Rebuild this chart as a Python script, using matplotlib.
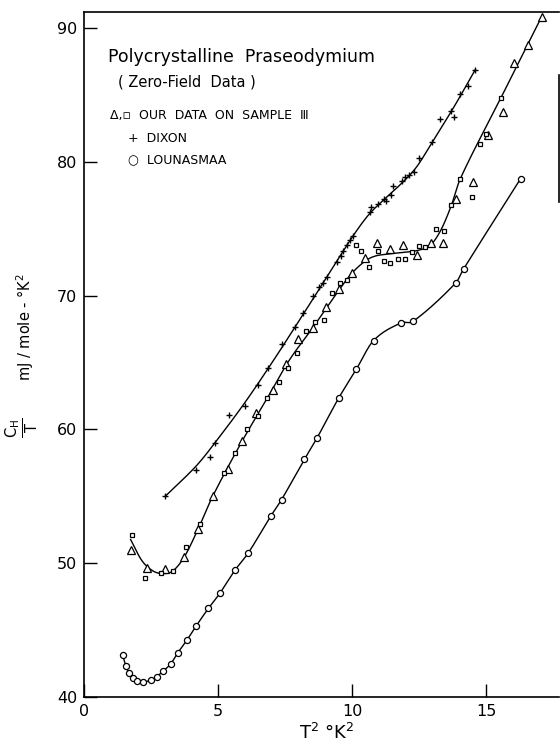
import numpy as np
import matplotlib
matplotlib.use("Agg")
import matplotlib.pyplot as plt

plt.rcParams['font.family'] = ['DejaVu Sans']
plt.rcParams['mathtext.fontset'] = 'dejavusans'

# Sample III, triangles
tri_x = [1.77, 2.36, 3.03, 3.74, 4.24, 4.80, 5.37, 5.90, 6.43, 7.05, 7.55, 8.00,
         8.53, 9.03, 9.53, 10.01, 10.50, 10.93, 11.41, 11.91, 12.43, 12.95, 13.40,
         13.88, 14.50, 15.06, 15.62, 16.03, 16.55, 17.07]
tri_y = [50.97, 49.65, 49.55, 50.43, 52.59, 55.00, 57.04, 59.13, 61.22, 62.96, 64.90, 66.74,
         67.59, 69.13, 70.47, 71.69, 72.81, 73.90, 73.46, 73.75, 73.04, 73.96, 73.96,
         77.22, 78.51, 81.99, 83.73, 87.37, 88.71, 90.84]

# Sample III, squares
sq_x = [1.80, 2.29, 2.88, 3.31, 3.82, 4.32, 5.22, 5.65, 6.09, 6.50, 6.84, 7.28, 7.62,
        7.93, 8.28, 8.63, 8.94, 9.24, 9.54, 9.82, 10.16, 10.35, 10.63, 10.95, 11.19,
        11.43, 11.72, 11.98, 12.23, 12.51, 12.73, 13.12, 13.43, 13.68, 14.04, 14.47,
        14.76, 15.01, 15.57]
sq_y = [52.14, 48.90, 49.28, 49.43, 51.22, 52.91, 56.74, 58.23, 60.00, 60.97, 62.34, 63.53, 64.60,
        65.69, 67.34, 68.01, 68.19, 70.20, 70.92, 71.19, 73.75, 73.36, 72.16, 73.36, 72.61,
        72.46, 72.76, 72.76, 73.28, 73.73, 73.60, 75.00, 74.83, 76.79, 78.75, 77.34,
        81.37, 82.07, 84.80]

# Sample III, drawn curve
s3_fit_x = [1.74, 2.15, 2.55, 2.90, 3.30, 3.75, 4.28, 4.80, 5.90, 6.84, 7.65, 8.53, 9.53,
            10.00, 10.50, 10.85, 11.30, 11.90, 12.40, 12.90, 13.30, 13.70, 14.04, 15.57, 17.07]
s3_fit_y = [51.77, 50.22, 49.45, 49.23, 49.40, 50.50, 52.66, 55.00, 59.13, 62.34, 65.15, 67.59, 70.47,
            71.69, 72.60, 72.95, 73.10, 73.23, 73.36, 73.73, 74.85, 76.72, 78.75, 84.85, 90.84]

# Dixon
dixon_x = [3.03, 4.18, 4.69, 4.88, 5.40, 5.99, 6.48, 6.88, 7.39, 7.88, 8.18, 8.56, 8.75,
           8.90, 9.05, 9.43, 9.59, 9.68, 9.82, 9.94, 10.03, 10.68, 10.71, 10.97, 11.18,
           11.28, 11.47, 11.51, 11.85, 11.98, 12.13, 12.31, 12.48, 12.97, 13.28, 13.70,
           13.81, 14.03, 14.33, 14.60]
dixon_y = [55.00, 56.99, 57.93, 58.98, 61.10, 61.72, 63.34, 64.60, 66.40, 67.63, 68.68, 70.00, 70.62,
           70.92, 71.37, 72.49, 72.99, 73.31, 73.81, 74.16, 74.46, 76.22, 76.59, 76.84, 77.19,
           77.09, 77.54, 78.21, 78.58, 78.83, 79.01, 79.25, 80.28, 81.45, 83.18, 83.81,
           83.36, 85.04, 85.67, 86.87]

# Dixon, drawn curve
dixon_fit_x = [3.03, 4.20, 5.00, 6.00, 7.00, 8.00, 9.00, 10.00, 10.60, 11.20, 11.80,
               12.40, 13.00, 13.80, 14.60]
dixon_fit_y = [55.00, 57.30, 59.30, 62.00, 64.95, 68.05, 71.20, 74.35, 76.00, 77.20, 78.30,
               79.60, 81.50, 84.10, 86.90]

# Lounasmaa
loun_x = [1.44, 1.56, 1.69, 1.81, 1.96, 2.19, 2.49, 2.71, 2.95, 3.23, 3.49, 3.84, 4.18,
          4.64, 5.07, 5.64, 6.13, 6.97, 7.37, 8.22, 8.69, 9.50, 10.16, 10.80, 11.82,
          12.28, 13.87, 14.16, 16.29]
loun_y = [43.13, 42.31, 41.77, 41.40, 41.19, 41.10, 41.27, 41.51, 41.94, 42.46, 43.28, 44.25, 45.30,
          46.62, 47.76, 49.50, 50.77, 53.53, 54.75, 57.76, 59.35, 62.34, 64.50, 66.64, 67.96,
          68.08, 70.95, 71.99, 78.75]

x_ticks = [0, 5, 10, 15]
y_ticks = [40, 50, 60, 70, 80, 90]


def smooth(xs, ys, n=24):
    """Cubic Hermite curve through the nodes (Catmull-Rom style slopes)."""
    xs = np.asarray(xs, float)
    ys = np.asarray(ys, float)
    m = np.empty_like(ys)
    m[1:-1] = (ys[2:] - ys[:-2]) / (xs[2:] - xs[:-2])
    m[0] = (ys[1] - ys[0]) / (xs[1] - xs[0])
    m[-1] = (ys[-1] - ys[-2]) / (xs[-1] - xs[-2])
    out_x, out_y = [], []
    for i in range(len(xs) - 1):
        h = xs[i + 1] - xs[i]
        t = np.linspace(0, 1, n, endpoint=False)
        h00 = 2 * t**3 - 3 * t**2 + 1
        h10 = t**3 - 2 * t**2 + t
        h01 = -2 * t**3 + 3 * t**2
        h11 = t**3 - t**2
        out_x.append(xs[i] + t * h)
        out_y.append(h00 * ys[i] + h10 * h * m[i] + h01 * ys[i + 1] + h11 * h * m[i + 1])
    out_x.append([xs[-1]])
    out_y.append([ys[-1]])
    return np.concatenate(out_x), np.concatenate(out_y)


W, H = 560, 747
fig = plt.figure(figsize=(W / 100, H / 100), dpi=100)
ax = fig.add_axes([84 / W, 50 / H, (559 - 84) / W, (697 - 12) / H])

lw = 1.0
cx, cy = smooth(loun_x, loun_y)
ax.plot(cx, cy, color='black', lw=lw, zorder=2)
cx, cy = smooth(s3_fit_x, s3_fit_y)
ax.plot(cx, cy, color='black', lw=lw, zorder=2)
cx, cy = smooth(dixon_fit_x, dixon_fit_y)
ax.plot(cx, cy, color='black', lw=lw, zorder=2)

ax.plot(loun_x, loun_y, 'o', ms=4.4, mfc='white', mec='black', mew=0.9, zorder=3)
ax.plot(tri_x, tri_y, '^', ms=5.3, mfc='white', mec='black', mew=0.9, zorder=3)
ax.plot(sq_x, sq_y, 's', ms=3.2, mfc='white', mec='black', mew=0.9, zorder=3)
ax.plot(dixon_x, dixon_y, '+', ms=4.5, color='black', mew=1.0, zorder=3)

ax.set_xlim(0, 17.72)
ax.set_ylim(40, 91.2)
ax.set_xticks(x_ticks)
ax.set_yticks(y_ticks)
ax.set_xticklabels([str(v) for v in x_ticks])
ax.set_yticklabels([str(v) for v in y_ticks])
ax.tick_params(direction='in', length=9.5, width=1.0, labelsize=11.5, pad=5,
               top=False, right=False)
for side in ['left', 'bottom', 'top', 'right']:
    ax.spines[side].set_linewidth(1.2)
ax.spines['right'].set_bounds(77.0, 86.5)

# labels
fig.text(22 / W, 1 - 428 / H, r'$\frac{\mathrm{C_H}}{\mathrm{T}}$', rotation=90,
         ha='center', va='center', fontsize=15)
fig.text(25 / W, 1 - 327 / H, 'mJ / mole - °K$^2$', rotation=90,
         ha='center', va='center', fontsize=10.5)
fig.text(327 / W, 1 - 733 / H, 'T$^2$ °K$^2$', ha='center', va='center', fontsize=13)

# captions and key
fig.text(108 / W, 1 - 57 / H, 'Polycrystalline  Praseodymium', ha='left', va='center',
         fontsize=12.5)
fig.text(118 / W, 1 - 82 / H, '( Zero-Field  Data )', ha='left', va='center', fontsize=10.5)
fig.text(110 / W, 1 - 116 / H, 'Δ,▫  OUR  DATA  ON  SAMPLE  Ⅲ', ha='left', va='center',
         fontsize=9)
fig.text(128 / W, 1 - 138 / H, '+  DIXON', ha='left', va='center', fontsize=9)
fig.text(128 / W, 1 - 160 / H, '○  LOUNASMAA', ha='left', va='center', fontsize=9)

fig.savefig('out.png', dpi=100)
